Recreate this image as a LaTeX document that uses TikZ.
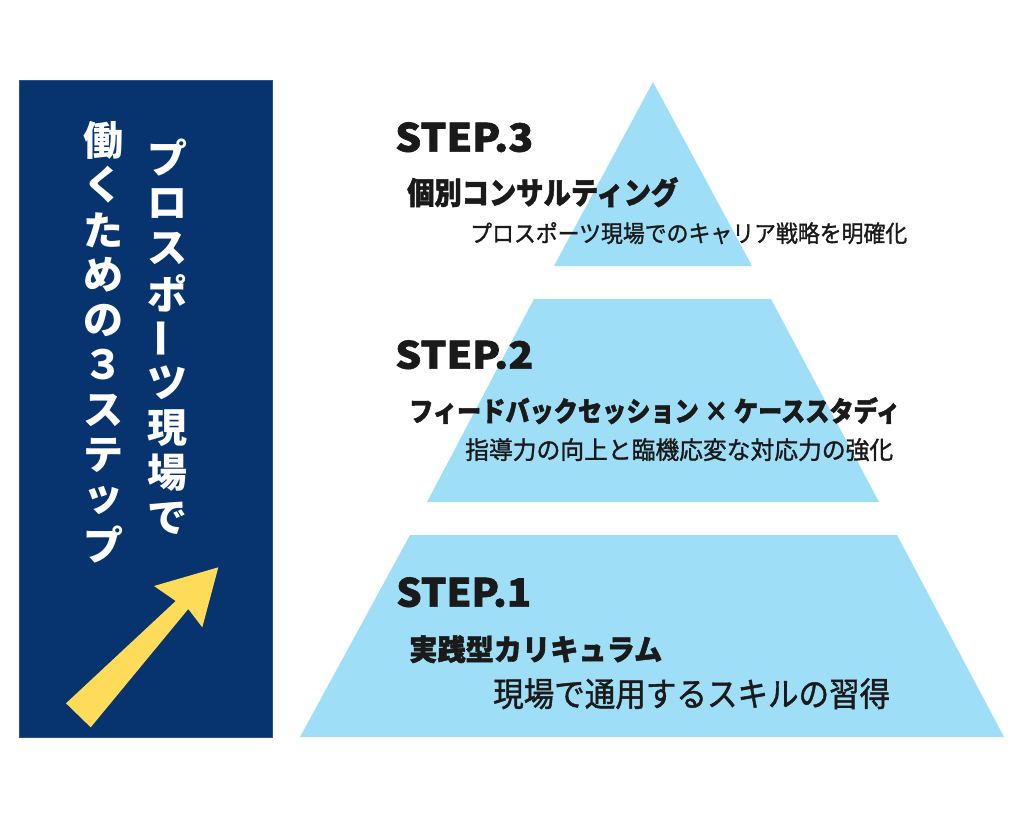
\documentclass[tikz,border=0pt]{standalone}
\usepackage{fontspec}
\usepackage{graphicx}
\newfontfamily\jp{Noto Sans CJK JP}
\newfontfamily\jph{Noto Sans CJK JP}[BoldFeatures={FakeBold=1.6}]
\newfontfamily\jpm{Noto Sans CJK JP}[UprightFeatures={FakeBold=1.3}]
\definecolor{navy}{HTML}{07336F}
\definecolor{sky}{HTML}{9EDFF7}
\definecolor{gold}{HTML}{FEDC5A}
\definecolor{ink}{HTML}{1A1A1A}
\newcommand\fitbox[3]{\resizebox*{#1}{#2}{#3}}
\begin{document}
\begin{tikzpicture}[x=1pt,y=-1pt,
  txt/.style={inner sep=0pt, anchor=north west, text=ink},
  vch/.style={inner sep=0pt, text=white, font=\jp\bfseries\fontsize{40}{40}\selectfont},
  tier/.style={fill=sky}]
\useasboundingbox (0,0) rectangle (1024,819);
\fill[white] (0,0) rectangle (1024,819);
% left panel
\path[fill=navy, draw=navy!85!white, line width=0.8pt] (19,80) rectangle (272,737);
% vertical text, right column
\foreach \c [count=\i from 0] in {プ,ロ,ス,ポ,\rotatebox{90}{ー},ツ,現,場,で}
  \node[vch] (r\i) at (167,158+45*\i) {\c};
% vertical text, left column
\foreach \c [count=\i from 0] in {働,く,た,め,の,３,ス,テ,ッ,プ}
  \node[vch] (l\i) at (103,140+45*\i) {\c};
% arrow
\fill[gold] (218.3,567.3) -- (202.3,627.3) -- (188.3,609) -- (90.7,727.3)
  -- (66,703.3) -- (175.7,601) -- (154,586) -- cycle;
% pyramid
\fill[tier] (653,82) -- (752,266) -- (554,266) -- cycle;
\fill[tier] (534,299) -- (771,299) -- (879,502) -- (427,502) -- cycle;
\fill[tier] (410,535) -- (897,535) -- (1004,737) -- (300,737) -- cycle;
% texts
\node[txt] (s3) at (395,122) {\fitbox{138pt}{30pt}{\jph\bfseries STEP.3}};
\node[txt] (h3) at (407,177) {\fitbox{271pt}{30pt}{\jph\bfseries 個別コンサルティング}};
\node[txt] (d3) at (470,222) {\fitbox{437pt}{22pt}{\jpm プロスポーツ現場でのキャリア戦略を明確化}};
\node[txt] (s2) at (395,340) {\fitbox{138pt}{29pt}{\jph\bfseries STEP.2}};
\node[txt] (h2) at (409,397) {\fitbox{491pt}{27pt}{\jph\bfseries フィードバックセッション × ケーススタディ}};
\node[txt] (d2) at (465,438) {\fitbox{428pt}{23pt}{\jpm 指導力の向上と臨機応変な対応力の強化}};
\node[txt] (s1) at (396,577) {\fitbox{135pt}{30pt}{\jph\bfseries STEP.1}};
\node[txt] (h1) at (409,635) {\fitbox{253pt}{28pt}{\jph\bfseries 実践型カリキュラム}};
\node[txt] (d1) at (493,678) {\fitbox{397pt}{31pt}{\jpm 現場で通用するスキルの習得}};
\end{tikzpicture}
\end{document}
